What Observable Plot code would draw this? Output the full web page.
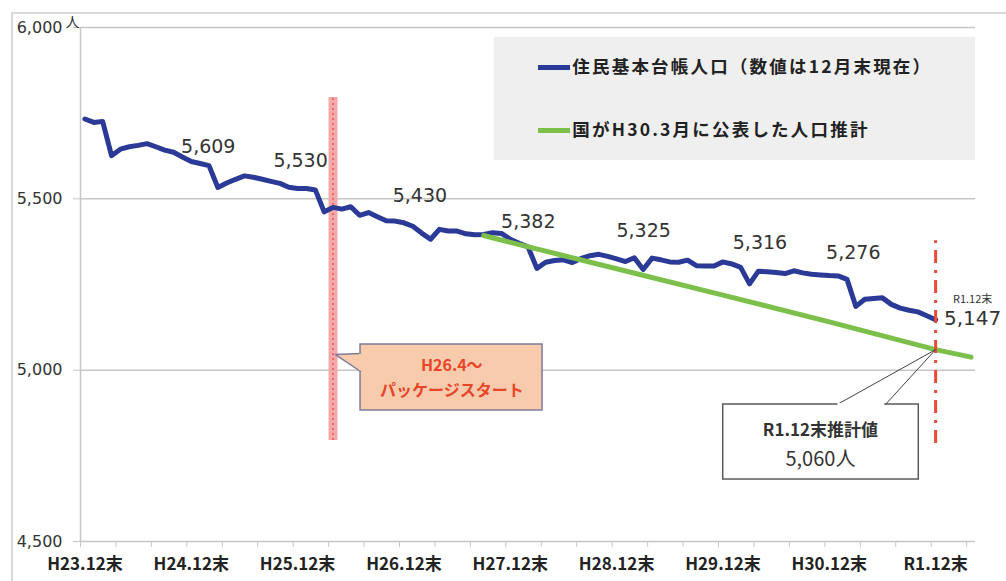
<!DOCTYPE html>
<html><head><meta charset="utf-8">
<script src="https://cdn.jsdelivr.net/npm/d3@7"></script>
<script src="https://cdn.jsdelivr.net/npm/@observablehq/plot@0.6"></script>
<style>
body{margin:0;background:#fff;}
#wrap{position:relative;width:1006px;height:581px;overflow:hidden;background:#fff;}
#frame{position:absolute;left:11px;top:12px;width:1100px;height:700px;border-left:2px solid #d9d9d9;border-top:2px solid #d9d9d9;}
#chart{position:absolute;left:0;top:0;}
</style></head><body>
<div id="wrap"><div id="frame"></div><div id="chart"></div></div>
<script>
// ---- data ----
// month index 0 = H23.12末 ... 96 = R1.12末
const population = [
 5733,5723,5726,5626,5645,5652,5656,5661,5652,5642,5636,5622,
 5609,5603,5597,5533,5546,5557,5567,5563,5557,5551,5545,5534,
 5530,5530,5526,5462,5475,5470,5477,5452,5460,5448,5436,5435,
 5430,5420,5400,5382,5411,5406,5406,5398,5395,5396,5401,5399,
 5382,5370,5360,5297,5315,5320,5322,5314,5326,5334,5338,5332,
 5325,5317,5328,5294,5327,5322,5316,5315,5321,5305,5304,5304,
 5316,5310,5300,5252,5289,5287,5285,5282,5290,5284,5280,5278,
 5276,5275,5265,5186,5207,5209,5211,5192,5181,5175,5170,5159,
 5147];
const projIdx = [45, 48, 60, 72, 84, 96, 100];
const projVal = [5393, 5373, 5296, 5219, 5141, 5060, 5038];
const tickIdx = [0, 12, 24, 36, 48, 60, 72, 84, 96];
const tickLabels = ["H23.12末","H24.12末","H25.12末","H26.12末","H27.12末","H28.12末","H29.12末","H30.12末","R1.12末"];
const yTicks = [4500, 5000, 5500, 6000];
const labelIdx = [12, 24, 36, 48, 60, 72, 84];
const lastIdx = 96;
const legendLabels = ["住民基本台帳人口（数値は12月末現在）", "国がH30.3月に公表した人口推計"];
const packageText = ["H26.4～", "パッケージスタート"];
const packageIdx = 28;
const estimateText = ["R1.12末推計値", "5,060人"];
const lastSmall = "R1.12末";
const unitLabel = "人";

// ---- layout / styles ----
const labelOffsets = [[17,-15],[3,-28],[16,-27],[18,-17],[27,-28],[37,-19],[24,-23]];
const BLUE = "#2b3a97", GREEN = "#7cc04b", GRID = "#c6c6c6", RED = "#ea4a35";
const fontJP = "'Noto Sans CJK JP', 'Noto Sans', sans-serif";
const fontNum = "'DejaVu Sans', 'Noto Sans', sans-serif";

const series = population.map((v, i) => ({i, v}));
const proj = projIdx.map((i, k) => ({i, v: projVal[k]}));
const fmt = d3.format(",");
const boundaries = d3.range(0, 26).map(k => -0.5 + 4 * k);

const labelMarks = labelIdx.map((i, k) =>
  Plot.text([{i, v: population[i]}], {x: "i", y: "v", dx: labelOffsets[k][0], dy: labelOffsets[k][1], text: d => fmt(d.v), fontSize: 19, fontFamily: fontNum, fill: "#333"})
);

const plot = Plot.plot({
  width: 1006, height: 581,
  marginLeft: 80, marginRight: 31, marginTop: 27, marginBottom: 40,
  x: {domain: [-0.5, 100.5]},
  y: {domain: [4500, 6000]},
  style: {background: "transparent", fontFamily: fontJP, overflow: "visible"},
  marks: [
    // legend background
    Plot.rect([0], {x1: 46.2, x2: 100.5, y1: 5612, y2: 5971, fill: "#efefef"}),
    // grid + axis lines
    Plot.ruleY(yTicks, {stroke: GRID, strokeWidth: 1.5}),
    Plot.ruleX([-0.5], {stroke: GRID, strokeWidth: 1.5}),
    Plot.axisY({ticks: yTicks, tickSize: 7, tickPadding: 11, tickFormat: fmt, fontSize: 16, fontFamily: fontNum, fill: "#333", stroke: GRID, label: null}),
    Plot.text([unitLabel], {x: -0.5, y: 6000, dx: -8, dy: -5, text: d => d, fontSize: 14, fill: "#333"}),
    Plot.axisX({ticks: boundaries, tickSize: 6, tickFormat: () => "", stroke: GRID, label: null}),
    Plot.axisX({ticks: tickIdx, tickSize: 0, tickPadding: 16, tickFormat: d => tickLabels[tickIdx.indexOf(d)], fontSize: 17, fontWeight: 600, fill: "#222", label: null}),
    // package start marker
    Plot.ruleX([packageIdx], {y1: 4795, y2: 5796, stroke: "#f7a9a9", strokeWidth: 9}),
    Plot.ruleX([packageIdx], {y1: 4795, y2: 5796, stroke: "#ec6a6a", strokeWidth: 2, strokeDasharray: "2,3"}),
    // series
    Plot.line(series, {x: "i", y: "v", stroke: BLUE, strokeWidth: 5, strokeLinejoin: "round", strokeLinecap: "round"}),
    Plot.line(proj, {x: "i", y: "v", stroke: GREEN, strokeWidth: 5, strokeLinecap: "round"}),
    // R1.12 marker
    Plot.ruleX([lastIdx], {y1: 4786, y2: 5378, stroke: RED, strokeWidth: 3, strokeDasharray: "13,7,3,7"}),
    // data labels
    ...labelMarks,
    Plot.text([population[lastIdx]], {x: lastIdx, y: d => d, dx: 37, dy: -1, text: d => fmt(d), fontSize: 20, fontFamily: fontNum, fill: "#333"}),
    Plot.text([lastSmall], {x: lastIdx, y: population[lastIdx], dx: 37, dy: -20, text: d => d, fontSize: 11, fill: "#333"}),
    // package callout
    Plot.rect([0], {x1: 31.10, x2: 51.64, y1: 4882.3, y2: 5074.9, fill: "#f8cbad", stroke: "#7b7b9b", strokeWidth: 1.5}),
    Plot.line([{x: 31.10, y: 5048.6}, {x: 28.28, y: 5045.7}, {x: 31.10, y: 4996.1}], {x: "x", y: "y", fill: "#f8cbad", stroke: "#7b7b9b", strokeWidth: 1.5}),
    Plot.ruleX([31.10], {y1: 5046.5, y2: 4998, stroke: "#f8cbad", strokeWidth: 3}),
    Plot.text([packageText[0]], {x: 41.4, y: 5013.6, text: d => d, fontSize: 16, fontWeight: 700, fill: "#e8452a"}),
    Plot.text([packageText[1]], {x: 41.4, y: 4940.6, text: d => d, fontSize: 16, fontWeight: 700, fill: "#e8452a"}),
    // estimate callout
    Plot.rect([0], {x1: 72.03, x2: 94.10, y1: 4680.9, y2: 4899.8, fill: "white", stroke: "#5a5a5a", strokeWidth: 1.5}),
    Plot.line([{x: 84.89, y: 4899.8}, {x: lastIdx, y: projVal[5]}, {x: 90.34, y: 4899.8}], {x: "x", y: "y", stroke: "#444", strokeWidth: 1}),
    Plot.ruleY([4899.8], {x1: 84.97, x2: 90.26, stroke: "white", strokeWidth: 3}),
    Plot.text([estimateText[0]], {x: 83.0, y: 4824, text: d => d, fontSize: 17, fontWeight: 600, fill: "#333"}),
    Plot.text([estimateText[1]], {x: 83.0, y: 4739, text: d => d, fontSize: 20, fill: "#333"}),
    // legend
    Plot.ruleY([5883.3], {x1: 51.19, x2: 54.8, stroke: BLUE, strokeWidth: 5}),
    Plot.ruleY([5699.4], {x1: 51.19, x2: 54.8, stroke: GREEN, strokeWidth: 5}),
    Plot.text([legendLabels[0]], {x: 55.0, y: 5883.3, text: d => d, textAnchor: "start", fontSize: 17.5, fontWeight: 700, fill: "#222"}),
    Plot.text([legendLabels[1]], {x: 55.0, y: 5699.4, text: d => d, textAnchor: "start", fontSize: 17.5, fontWeight: 700, fill: "#222"})
  ]
});
d3.select(plot).selectAll("text").filter(function(){ return legendLabels.includes(this.textContent); }).attr("letter-spacing", "2.2px");
document.getElementById("chart").appendChild(plot);
</script>
</body></html>
